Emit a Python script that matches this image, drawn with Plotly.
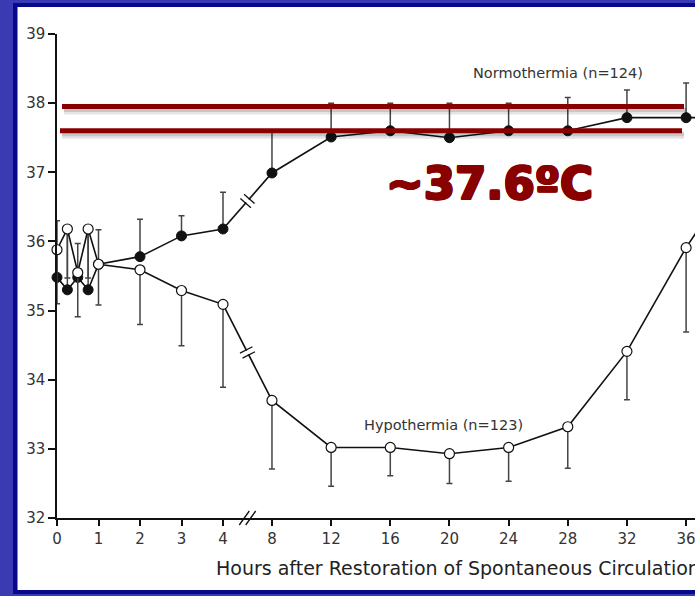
import math
import plotly.graph_objects as go

# ---------------- data ----------------
hours = [0, 0.25, 0.5, 0.75, 1, 2, 3, 4, 8, 12, 16, 20, 24, 28, 32, 36, 40]
normo_mean = [35.48, 35.30, 35.48, 35.30, 35.67, 35.78, 36.08, 36.18, 36.99,
              37.51, 37.60, 37.50, 37.60, 37.60, 37.79, 37.79, 37.79]
normo_upper = [36.30, 36.15, 35.97, 36.15, 36.17, 36.32, 36.37, 36.71, 37.60,
               38.00, 38.00, 38.00, 38.00, 38.08, 38.19, 38.29, 38.30]
hypo_mean = [35.88, 36.18, 35.55, 36.18, 35.67, 35.59, 35.29, 35.09, 33.70,
             33.02, 33.02, 32.93, 33.02, 33.32, 34.41, 35.91, 37.20]
hypo_lower = [35.10, 35.47, 34.91, 35.47, 35.08, 34.80, 34.49, 33.89, 32.71,
              32.46, 32.61, 32.50, 32.53, 32.72, 33.71, 34.69, 36.40]
tick_hours = [0, 1, 2, 3, 4, 8, 12, 16, 20, 24, 28, 32, 36]
tick_labels = [str(h) for h in tick_hours]
y_ticks = [32, 33, 34, 35, 36, 37, 38, 39]
ref_lines = [37.95, 37.6]
normo_label = "Normothermia (n=124)"
hypo_label = "Hypothermia (n=123)"
callout = "~37.6ºC"
x_title = "Hours after Restoration of Spontaneous Circulation"

# ---------------- layout geometry ----------------
W, H = 695, 596
L, R, T, B = 57, 0, 34, 78
PW, PH = W - L - R, H - T - B
PX_PER_UNIT = 41.5           # x pixels per axis unit (1 hour in 0-4 h part)
POS8 = 5.18                  # axis position of hour 8 (after the break)
PER_HOUR_LATE = 0.3564       # axis units per hour after the break
XMAX = PW / PX_PER_UNIT
YMIN, YMAX = 32, 39
PX_PER_DEG = PH / (YMAX - YMIN)


def pos(h):
    return h if h <= 4 else POS8 + (h - 8) * PER_HOUR_LATE


def px2paper_x(px):
    return (px - L) / PW


def py2paper_y(py):
    return (H - B - py) / PH


xs = [pos(h) for h in hours]

fig = go.Figure()

# Normothermia: filled circles, upward error bars
fig.add_trace(go.Scatter(
    x=xs, y=normo_mean, mode="lines+markers", cliponaxis=False,
    line=dict(color="#111", width=1.6),
    marker=dict(symbol="circle", size=10, color="#111", line=dict(color="#111", width=1)),
    error_y=dict(type="data", symmetric=False,
                 array=[u - m for u, m in zip(normo_upper, normo_mean)],
                 arrayminus=[0] * len(normo_mean),
                 color="#444", thickness=1.5, width=3),
    showlegend=False, hoverinfo="skip"))

# Hypothermia: open circles, downward error bars
fig.add_trace(go.Scatter(
    x=xs, y=hypo_mean, mode="lines+markers", cliponaxis=False,
    line=dict(color="#111", width=1.6),
    marker=dict(symbol="circle", size=10, color="white", line=dict(color="#111", width=1.2)),
    error_y=dict(type="data", symmetric=False,
                 array=[0] * len(hypo_mean),
                 arrayminus=[m - lo for m, lo in zip(hypo_mean, hypo_lower)],
                 color="#444", thickness=1.5, width=3),
    showlegend=False, hoverinfo="skip"))

shapes = []

# ---- break marks on the two lines (between hour 4 and hour 8) ----
def break_marks(x0, y0, x1, y1, half=7, gap=2.8):
    dxp = (x1 - x0) * PX_PER_UNIT
    dyp = (y1 - y0) * PX_PER_DEG
    n = math.hypot(dxp, dyp)
    ux, uy = dxp / n, dyp / n
    vx, vy = -uy, ux
    mx, my = (x0 + x1) / 2, (y0 + y1) / 2
    out = []
    out.append(dict(type="line", xref="x", yref="y", layer="above",
                    x0=mx - vx * half * 0.8 / PX_PER_UNIT, y0=my - vy * half * 0.8 / PX_PER_DEG,
                    x1=mx + vx * half * 0.8 / PX_PER_UNIT, y1=my + vy * half * 0.8 / PX_PER_DEG,
                    line=dict(color="white", width=4)))
    for s in (-1, 1):
        cx = mx + s * ux * gap / PX_PER_UNIT
        cy = my + s * uy * gap / PX_PER_DEG
        out.append(dict(type="line", xref="x", yref="y", layer="above",
                        x0=cx - vx * half / PX_PER_UNIT, y0=cy - vy * half / PX_PER_DEG,
                        x1=cx + vx * half / PX_PER_UNIT, y1=cy + vy * half / PX_PER_DEG,
                        line=dict(color="#111", width=1.3)))
    return out


i4, i8 = hours.index(4), hours.index(8)
shapes += break_marks(xs[i4], normo_mean[i4], xs[i8], normo_mean[i8])
shapes += break_marks(xs[i4], hypo_mean[i4], xs[i8], hypo_mean[i8])

# axis break "//" on x axis
bx = (pos(4) + pos(8)) / 2
for off in (-3.2, 3.2):
    shapes.append(dict(type="line", xref="x", yref="paper", layer="above",
                       x0=bx + (off - 5) / PX_PER_UNIT, y0=-7 / PH,
                       x1=bx + (off + 5) / PX_PER_UNIT, y1=7 / PH,
                       line=dict(color="#111", width=1.3)))

# ---- dark red reference lines with soft shadow ----
line_px = [(62, 684), (60, 682)]
for val, (a, b) in zip(ref_lines, line_px):
    for dy, w, op in [(4.5, 7, 0.10), (3.5, 4, 0.12)]:
        shapes.append(dict(type="line", xref="paper", yref="y", layer="above",
                           x0=px2paper_x(a + 2), x1=px2paper_x(b + 2),
                           y0=val - dy / PX_PER_DEG, y1=val - dy / PX_PER_DEG,
                           line=dict(color="black", width=w), opacity=op))
    shapes.append(dict(type="line", xref="paper", yref="y", layer="above",
                       x0=px2paper_x(a), x1=px2paper_x(b), y0=val, y1=val,
                       line=dict(color="#880000", width=5)))

# ---- blue frame around the slide ----
light_blue = "#3a3ab2"
navy = "#08088c"
def prect(x0, y0, x1, y1, color):
    return dict(type="rect", xref="paper", yref="paper", layer="below",
                x0=px2paper_x(x0), x1=px2paper_x(x1),
                y0=py2paper_y(y1), y1=py2paper_y(y0),
                fillcolor=color, line=dict(width=0))

shapes += [
    prect(0, 0, 13, H, light_blue),
    prect(0, 0, W, 3, light_blue),
    prect(0, 594, W, H, light_blue),
    prect(13, 3, 17.5, 594, navy),
    prect(13, 3, W, 7, navy),
    prect(13, 590, W, 594, navy),
]

red = "#880000"
thick = ", ".join(f"{dx}px {dy}px 0 {red}" for dx, dy in
                  [(1, 0), (-1, 0), (0, 1), (0, -1), (1, 1), (-1, -1), (1, -1), (-1, 1)])

annotations = [
    dict(text=normo_label, xref="paper", yref="paper",
         x=px2paper_x(558), y=py2paper_y(73), xanchor="center", yanchor="middle",
         showarrow=False,
         font=dict(family="DejaVu Sans, Arial", size=14.5, color="#333")),
    dict(text=hypo_label, xref="paper", yref="paper",
         x=px2paper_x(443), y=py2paper_y(425), xanchor="center", yanchor="middle",
         showarrow=False,
         font=dict(family="DejaVu Sans, Arial", size=14.5, color="#333")),
    dict(text="<b>" + callout + "</b>", xref="paper", yref="paper",
         x=px2paper_x(489), y=py2paper_y(184), xanchor="center", yanchor="middle",
         showarrow=False,
         font=dict(family="DejaVu Sans", size=45, color=red, shadow=thick)),
    dict(text=x_title, xref="paper", yref="paper",
         x=px2paper_x(214), y=py2paper_y(568), xanchor="left", yanchor="middle",
         showarrow=False,
         font=dict(family="DejaVu Sans, Arial", size=19, color="#222")),
]

axis_common = dict(showgrid=False, zeroline=False, showline=True,
                   linecolor="#111", linewidth=1.5, ticks="outside",
                   tickcolor="#111", tickwidth=1.5, ticklabeloverflow="allow",
                   tickfont=dict(family="DejaVu Sans, Arial", size=15, color="#333"))

fig.update_layout(
    width=W, height=H,
    margin=dict(l=L, r=R, t=T, b=B, pad=0),
    paper_bgcolor="white", plot_bgcolor="white",
    xaxis=dict(range=[0, XMAX], tickvals=[pos(h) for h in tick_hours],
               ticktext=tick_labels, ticklen=6, **axis_common),
    yaxis=dict(range=[YMIN, YMAX], tickvals=y_ticks, ticklen=7, **axis_common),
    shapes=shapes, annotations=annotations,
)

fig.write_html("out.html", config={"displayModeBar": False},
               post_script="document.body.style.margin='0';"
                           "document.body.style.overflow='hidden';")
